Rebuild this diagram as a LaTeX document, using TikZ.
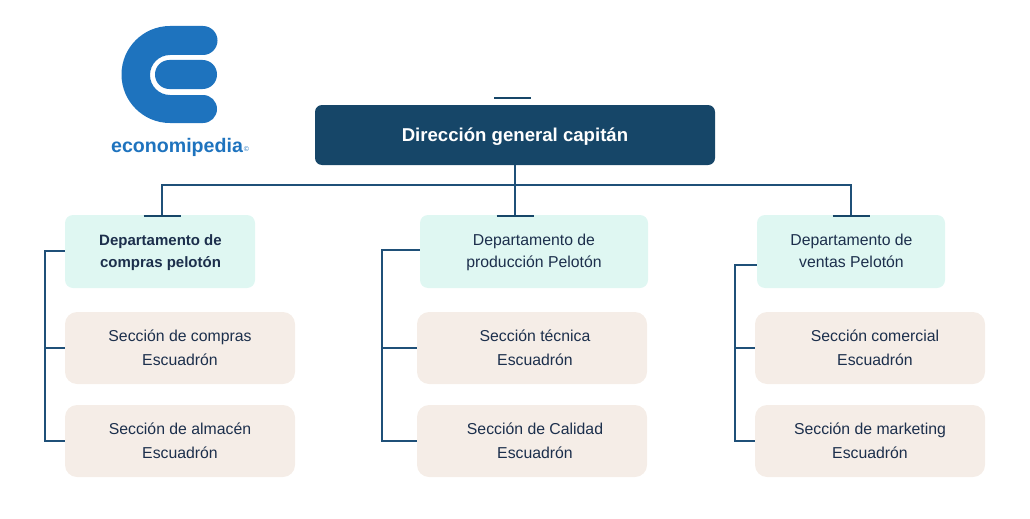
\documentclass[tikz,border=0pt]{standalone}
\usepackage{fontspec}
\setmainfont{Liberation Sans}
\definecolor{navy}{HTML}{164668}
\definecolor{linec}{HTML}{1F5078}
\definecolor{mint}{HTML}{DFF7F2}
\definecolor{sand}{HTML}{F5EDE7}
\definecolor{ink}{HTML}{1C2F4C}
\definecolor{logoblue}{HTML}{1E73BE}
\tikzset{
  x=1pt,y=-1pt,
  topbox/.style={fill=navy,rounded corners=7pt,minimum width=400pt,minimum height=60pt},
  toplbl/.style={text=white,inner sep=0pt,font=\fontsize{18.6}{23}\selectfont\bfseries},
  deptbox/.style={fill=mint,rounded corners=8pt,minimum height=73pt},
  secbox/.style={fill=sand,rounded corners=12pt,minimum width=230pt,minimum height=72pt},
  lbl/.style={text=ink,align=center,inner sep=0pt,font=\fontsize{15.8}{23.5}\selectfont},
  dlbl/.style={text=ink,align=center,inner sep=0pt,font=\fontsize{15.8}{22}\selectfont},
  conn/.style={draw=linec,line width=2pt},
  tick/.style={draw=navy,line width=2pt},
}
\begin{document}
\begin{tikzpicture}
\useasboundingbox (0,0) rectangle (1030,519);
% logo
\fill[logoblue] (170,26) -- (203,26) arc[start angle=90,end angle=-90,radius=14.5pt] -- (170,55)
  arc[start angle=90,end angle=270,radius=20pt] -- (203,95)
  arc[start angle=90,end angle=-90,radius=14pt] -- (170,123)
  arc[start angle=270,end angle=90,radius=48.5pt] -- cycle;
\fill[logoblue,rounded corners=14.4pt] (155,60) rectangle (217,89);
\node[text=logoblue,inner sep=0pt,font=\fontsize{19.6}{24}\selectfont\bfseries] (logotext) at (177,147) {economipedia};
\node[text=logoblue,inner sep=0pt,font=\fontsize{7}{8}\selectfont] (logomark) at (246.5,149.5) {©};
% boxes
\node[topbox] (top) at (515,135) {};
\node[deptbox,minimum width=190pt] (d1) at (160,251.5) {};
\node[deptbox,minimum width=228pt] (d2) at (534,251.5) {};
\node[deptbox,minimum width=188pt] (d3) at (851,251.5) {};
\node[secbox] (s1) at (180,348) {};
\node[secbox] (s2) at (180,441) {};
\node[secbox] (s3) at (532,348) {};
\node[secbox] (s4) at (532,441) {};
\node[secbox] (s5) at (870,348) {};
\node[secbox] (s6) at (870,441) {};
% labels
\node[toplbl] (ttop) at (515,137) {Dirección general capitán};
\node[dlbl,font=\fontsize{15}{22}\selectfont\bfseries] (td1) at (160.5,252.5) {Departamento de\\compras pelotón};
\node[dlbl] (td2) at (534,252.5) {Departamento de\\producción Pelotón};
\node[dlbl] (td3) at (851.5,250.5) {Departamento de\\ventas Pelotón};
\node[lbl] (t1) at (180,348) {Sección de compras\\Escuadrón};
\node[lbl] (t2) at (180,441) {Sección de almacén\\Escuadrón};
\node[lbl] (t3) at (535,348) {Sección técnica\\Escuadrón};
\node[lbl] (t4) at (535,441) {Sección de Calidad\\Escuadrón};
\node[lbl] (t5) at (875,348) {Sección comercial\\Escuadrón};
\node[lbl] (t6) at (870,441) {Sección de marketing\\Escuadrón};
% connectors
\coordinate (bus) at (515,185);
\coordinate (c1) at (162,215);
\coordinate (c3) at (851,215);
\draw[conn] (top.south) -- (top.south |- d2.north);
\draw[conn] (c1) -- (c1 |- bus) -- (c3 |- bus) -- (c3);
\coordinate (a1) at (45,251);
\coordinate (a2) at (382,250);
\coordinate (a3) at (735,265);
\draw[conn] (d1.west |- a1) -- (a1) -- (a1 |- s2.west) -- (s2.west);
\draw[conn] (a1 |- s1.west) -- (s1.west);
\draw[conn] (d2.west |- a2) -- (a2) -- (a2 |- s4.west) -- (s4.west);
\draw[conn] (a2 |- s3.west) -- (s3.west);
\draw[conn] (d3.west |- a3) -- (a3) -- (a3 |- s6.west) -- (s6.west);
\draw[conn] (a3 |- s5.west) -- (s5.west);
% ticks
\coordinate (tk0) at (512.5,98);
\draw[tick] ([xshift=-18.5pt]tk0) -- ([xshift=18.5pt]tk0);
\draw[tick] ([xshift=-18.5pt,yshift=-1pt]c1) -- ([xshift=18.5pt,yshift=-1pt]c1);
\draw[tick] ([xshift=-18.5pt,yshift=-1pt]top.south |- d2.north) -- ([xshift=18.5pt,yshift=-1pt]top.south |- d2.north);
\draw[tick] ([xshift=-18.5pt,yshift=-1pt]c3) -- ([xshift=18.5pt,yshift=-1pt]c3);
\end{tikzpicture}
\end{document}
